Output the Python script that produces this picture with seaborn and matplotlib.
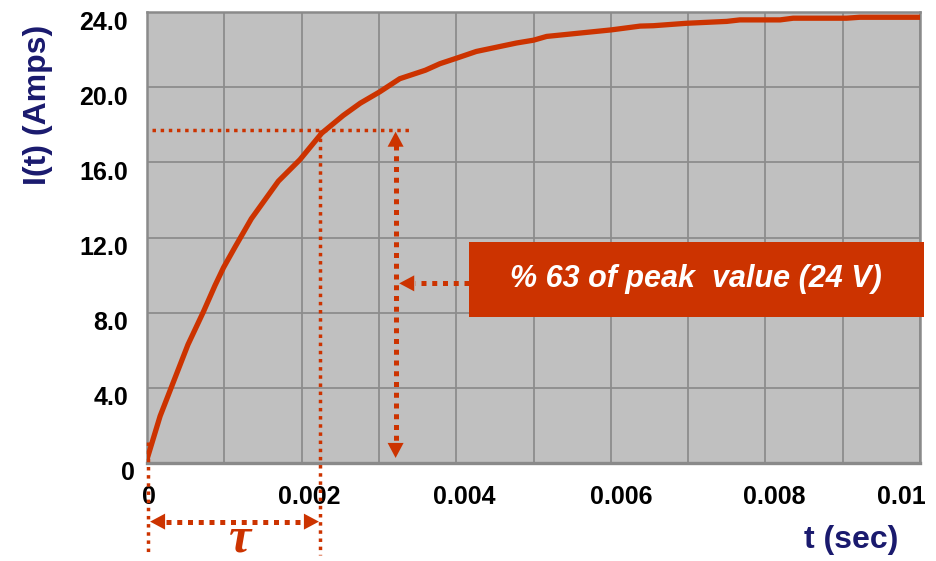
import numpy as np
import pandas as pd
import matplotlib
matplotlib.use("Agg")
import matplotlib.pyplot as plt
from matplotlib.patches import Rectangle
from matplotlib.transforms import ScaledTranslation
import seaborn as sns

# RL-circuit charging current
time_s = [0, 0.00017, 0.00053, 0.00073, 0.00088, 0.00099, 0.00114, 0.00135, 0.00170,
          0.00198, 0.00226, 0.00254, 0.00276, 0.00301, 0.00327, 0.00360, 0.00379,
          0.00401, 0.00426, 0.00478, 0.00500, 0.00517, 0.00601, 0.00638, 0.00655,
          0.00698, 0.00750, 0.00767, 0.00819, 0.00836, 0.00905, 0.00922, 0.0100]
current_a = [0.2, 2.5, 6.3, 8.05, 9.45, 10.4, 11.5, 13.0, 15.0,
             16.15, 17.55, 18.5, 19.15, 19.75, 20.45, 20.9, 21.25,
             21.55, 21.9, 22.35, 22.5, 22.7, 23.05, 23.25, 23.27,
             23.4, 23.5, 23.58, 23.58, 23.67, 23.67, 23.72, 23.72]

x_ticks = [0, 0.002, 0.004, 0.006, 0.008, 0.01]
x_tick_labels = ["0", "0.002", "0.004", "0.006", "0.008", "0.01"]
y_ticks = [0, 4, 8, 12, 16, 20, 24]
y_tick_labels = ["0", "4.0", "8.0", "12.0", "16.0", "20.0", "24.0"]

tau = 0.00224          # time constant
level_63 = 17.7        # 63 % level marked on the curve
box_text = "% 63 of peak  value (24 V)"

RED = "#CC3300"
NAVY = "#1a1a6e"

sns.set_style("white", {"axes.facecolor": "#C0C0C0"})
plt.rcParams["font.family"] = ["Liberation Sans", "DejaVu Sans"]

fig = plt.figure(figsize=(9.36, 5.61), dpi=100)
ax = fig.add_axes([147 / 936, 98 / 561, 773 / 936, 451 / 561])

df = pd.DataFrame({"t": time_s, "I": current_a})
sns.lineplot(data=df, x="t", y="I", ax=ax, color=RED, linewidth=3.8, zorder=5)

ax.set_xlim(0, 0.01)
ax.set_ylim(0, 24)

# grid
ax.set_xticks(x_ticks, x_tick_labels)
ax.set_xticks(np.arange(0.001, 0.01, 0.002), minor=True)
ax.set_yticks(y_ticks, y_tick_labels)
ax.grid(True, which="both", color="#8c8c8c", linewidth=1.3)
ax.set_axisbelow(True)
ax.tick_params(axis="both", which="both", length=0)
ax.tick_params(axis="y", pad=13.5, labelsize=18)
ax.tick_params(axis="x", pad=16, labelsize=18)
for lab in ax.get_xticklabels() + ax.get_yticklabels():
    lab.set_fontweight("bold")
    lab.set_color("black")

# nudge tick labels
x_shift = [2, 8, 8, 10, 9, -19]
for lab, dx in zip(ax.get_xticklabels(), x_shift):
    lab.set_transform(lab.get_transform() + ScaledTranslation(dx / 100, 0, fig.dpi_scale_trans))
for i, lab in enumerate(ax.get_yticklabels()):
    dx = 7 if i == 0 else 0
    lab.set_transform(lab.get_transform() + ScaledTranslation(dx / 100, -8 / 100, fig.dpi_scale_trans))

for side in ["left", "right", "top", "bottom"]:
    ax.spines[side].set_visible(True)
    ax.spines[side].set_color("#8a8a8a")
    ax.spines[side].set_linewidth(1.8)
ax.spines["bottom"].set_linewidth(2.4)

ax.set_xlabel("t (sec)", fontsize=23, fontweight="bold", color=NAVY)
ax.xaxis.set_label_coords(0.911, -0.171)
ax.xaxis.label.set_va("center")
ax.set_ylabel("I(t) (Amps)", fontsize=23, fontweight="bold", color=NAVY)
ax.yaxis.set_label_coords(-0.141, 0.794)
ax.yaxis.label.set_va("center")

# thin dotted guide lines
thin = dict(color=RED, linewidth=2.5, dashes=(1, 1.35), solid_capstyle="butt",
            dash_capstyle="butt", clip_on=False, zorder=6)
ax.plot([0.00006, 0.00343], [level_63, level_63], **thin)
ax.plot([tau, tau], [level_63, -4.9], **thin)
ax.plot([0.00001, 0.00001], [1.12, -4.9], **thin)

thick = dict(color=RED, linewidth=3.6, dashes=(1, 1.15), dash_capstyle="butt",
             clip_on=False, zorder=6)
head = dict(arrowstyle="-|>,head_length=0.6,head_width=0.32", mutation_scale=18,
            lw=0, fc=RED, ec=RED, shrinkA=0, shrinkB=0)


def arrow_head(tip, base):
    ax.annotate("", xy=tip, xytext=base, arrowprops=head,
                annotation_clip=False, zorder=7)


# vertical double arrow spanning 0 .. 63 %
xa = 0.003216
ax.plot([xa, xa], [16.9, 1.0], **thick)
arrow_head((xa, 17.63), (xa, 16.0))
arrow_head((xa, 0.27), (xa, 1.9))

# arrow from the label box
ya = 9.56
ax.plot([0.004164, 0.00347], [ya, ya], **thick)
arrow_head((0.003263, ya), (0.00350, ya))

# time-constant double arrow below the axis
yt = -3.12
ax.plot([0.00025, 0.00200], [yt, yt], **thick)
arrow_head((0.00004, yt), (0.00026, yt))
arrow_head((0.002224, yt), (0.00200, yt))
ax.text(0.00121, -4.05, "τ", color=RED, fontsize=36, fontstyle="italic",
        fontweight="bold", family=["Liberation Serif", "DejaVu Serif"],
        ha="center", va="center", clip_on=False, zorder=7)

# label box
ax.add_patch(Rectangle((0.004164, 7.77), 0.010048 - 0.004164, 11.76 - 7.77,
                       facecolor=RED, edgecolor="none", clip_on=False, zorder=8))
ax.text((0.004164 + 0.010048) / 2, 9.77, box_text, color="white", fontsize=22,
        fontweight="bold", fontstyle="italic", ha="center", va="center",
        clip_on=False, zorder=9)

fig.savefig("out.png", dpi=100)
